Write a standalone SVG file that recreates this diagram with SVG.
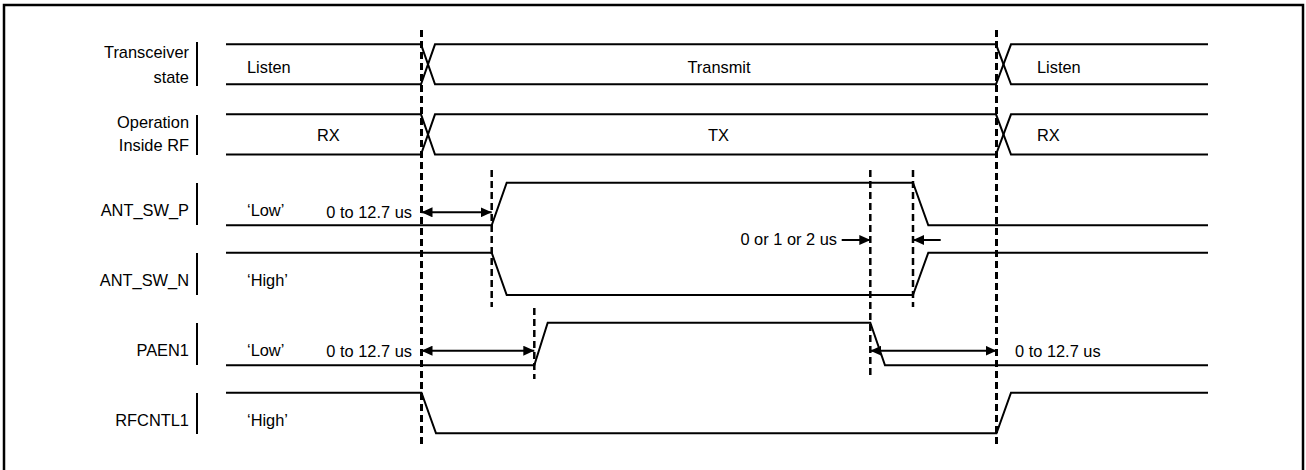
<svg xmlns="http://www.w3.org/2000/svg" width="1306" height="470" viewBox="0 0 1306 470">
<style>
.t{font-family:"Liberation Sans",Arial,sans-serif;font-size:16.4px;fill:#000}
.e{text-anchor:end}
.m{text-anchor:middle}
.sig{fill:none;stroke:#000;stroke-width:2}
.bar{stroke:#000;stroke-width:2}
.dl{stroke:#000;stroke-width:3;stroke-dasharray:7 4;fill:none}
.dm{stroke:#000;stroke-width:2.5;stroke-dasharray:7 4;fill:none}
.ar{stroke:#000;stroke-width:2;fill:none}
</style>
<defs>
<marker id="ah" viewBox="0 0 11 10" refX="11" refY="5" markerWidth="11" markerHeight="10" markerUnits="userSpaceOnUse" orient="auto-start-reverse">
<path d="M0,0 L11,5 L0,10 z" fill="#000"/>
</marker>
</defs>
<rect x="4" y="5" width="1299" height="470" fill="#fff" stroke="#000" stroke-width="2.5"/>

<g id="guides">
<line class="dl" x1="421.5" y1="30" x2="421.5" y2="448"/>
<line class="dm" x1="491.7" y1="170" x2="491.7" y2="307"/>
<line class="dm" x1="534.3" y1="308" x2="534.3" y2="379"/>
<line class="dm" x1="870.3" y1="170" x2="870.3" y2="379"/>
<line class="dm" x1="913" y1="170" x2="913" y2="307"/>
<line class="dl" x1="996.5" y1="30" x2="996.5" y2="448"/>
</g>

<g id="transceiver-state">
<text class="t e" x="189" y="58.3">Transceiver</text>
<text class="t e" x="189" y="82.5">state</text>
<line class="bar" x1="197" y1="42" x2="197" y2="86"/>
<path class="sig" d="M226,44.3 H421 L435,84.3 H996 L1011,44.3 H1208"/>
<path class="sig" d="M226,84.3 H421 L435,44.3 H996 L1011,84.3 H1208"/>
<text class="t" x="247" y="72.5">Listen</text>
<text class="t m" x="719" y="72.5">Transmit</text>
<text class="t" x="1037" y="72.5">Listen</text>
</g>

<g id="operation-inside-rf">
<text class="t e" x="189" y="128.3">Operation</text>
<text class="t e" x="189" y="150.7">Inside RF</text>
<line class="bar" x1="197" y1="115" x2="197" y2="155"/>
<path class="sig" d="M226,114.3 H421 L435,154.5 H996 L1011,114.3 H1208"/>
<path class="sig" d="M226,154.5 H421 L435,114.3 H996 L1011,154.5 H1208"/>
<text class="t" x="317" y="141">RX</text>
<text class="t m" x="718.5" y="141">TX</text>
<text class="t" x="1037" y="141">RX</text>
</g>

<g id="ant-sw-p">
<text class="t e" x="189" y="215.5">ANT_SW_P</text>
<line class="bar" x1="197" y1="183" x2="197" y2="225"/>
<path class="sig" d="M226,225.3 H491.7 L506.7,182.7 H913 L928.3,225.3 H1208"/>
<text class="t" x="247" y="215.5">‘Low’</text>
</g>

<g id="ant-sw-n">
<text class="t e" x="189" y="286">ANT_SW_N</text>
<line class="bar" x1="197" y1="253" x2="197" y2="295"/>
<path class="sig" d="M226,252.7 H491.7 L506.7,295 H913 L928.3,252.7 H1208"/>
<text class="t" x="247" y="286">‘High’</text>
</g>

<g id="paen1">
<text class="t e" x="189" y="355.5">PAEN1</text>
<line class="bar" x1="197" y1="323" x2="197" y2="365"/>
<path class="sig" d="M226,365.3 H534.3 L547.7,322.7 H870.3 L885,365.3 H1208"/>
<text class="t" x="247" y="355.5">‘Low’</text>
</g>

<g id="rfcntl1">
<text class="t e" x="189" y="426">RFCNTL1</text>
<line class="bar" x1="197" y1="393" x2="197" y2="434"/>
<path class="sig" d="M226,392.7 H421.5 L436,433.3 H996.5 L1011,392.7 H1208"/>
<text class="t" x="247" y="426">‘High’</text>
</g>

<g id="connectors">
<line class="ar" x1="421.5" y1="212.3" x2="491.7" y2="212.3" marker-start="url(#ah)" marker-end="url(#ah)"/>
<text class="t e" x="412" y="218">0 to 12.7 us</text>
<line class="ar" x1="841.7" y1="240" x2="870.3" y2="240" marker-end="url(#ah)"/>
<line class="ar" x1="940.7" y1="240" x2="913" y2="240" marker-end="url(#ah)"/>
<text class="t e" x="837" y="244.5">0 or 1 or 2 us</text>
<line class="ar" x1="421.5" y1="350.7" x2="534.3" y2="350.7" marker-start="url(#ah)" marker-end="url(#ah)"/>
<text class="t e" x="412" y="357">0 to 12.7 us</text>
<line class="ar" x1="870.3" y1="350.7" x2="996.5" y2="350.7" marker-start="url(#ah)" marker-end="url(#ah)"/>
<text class="t" x="1015" y="357">0 to 12.7 us</text>
</g>
</svg>
